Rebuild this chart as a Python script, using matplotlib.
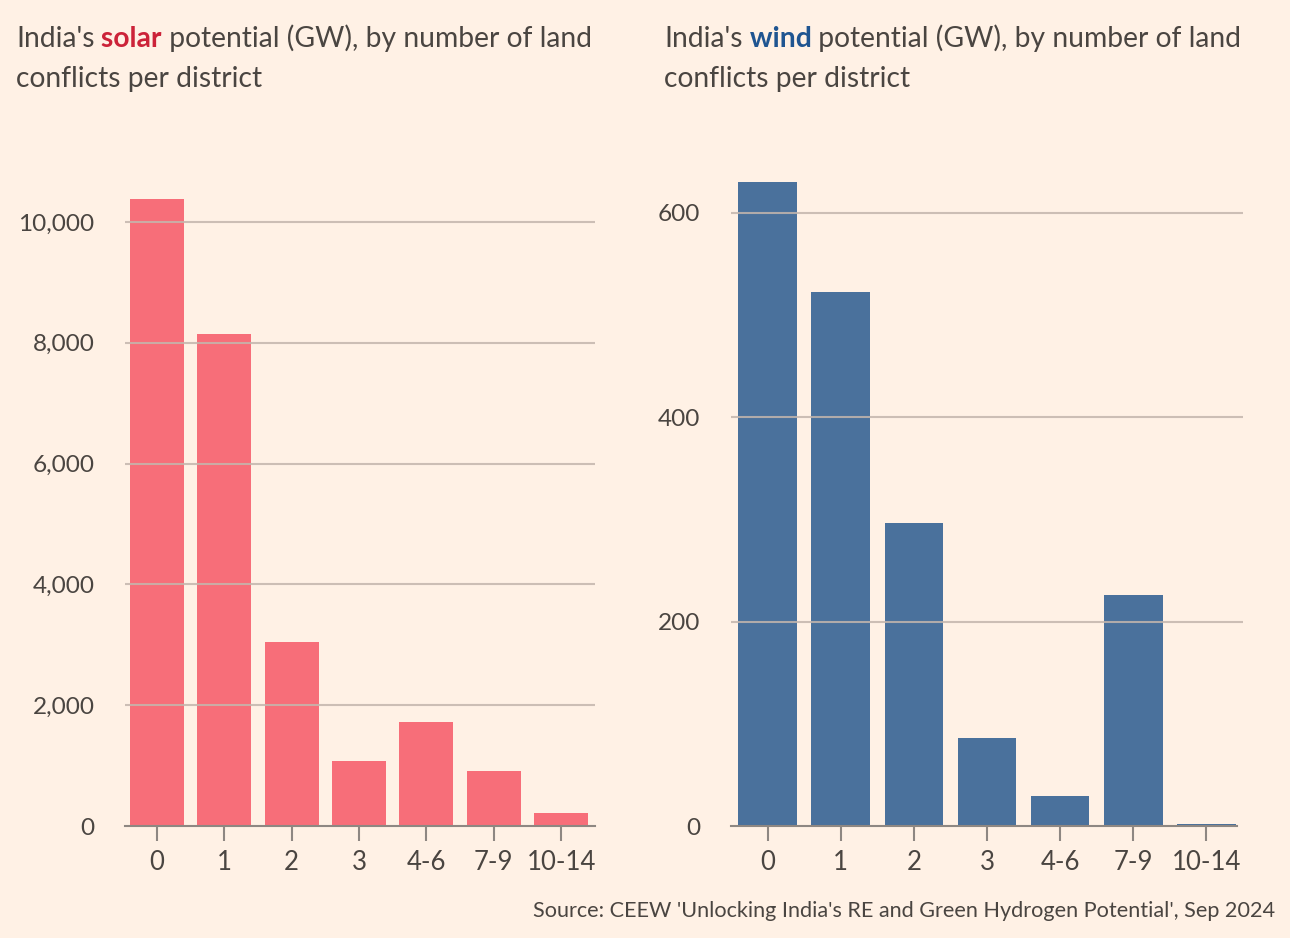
import matplotlib
matplotlib.use("Agg")
import matplotlib.pyplot as plt
import numpy as np

plt.rcParams['font.family'] = ['Lato', 'DejaVu Sans']

# data
categories = ["0", "1", "2", "3", "4-6", "7-9", "10-14"]
solar_gw = [10380, 8150, 3050, 1075, 1720, 910, 215]
wind_gw = [630, 523, 297, 86, 29, 226, 1.5]
solar_ticks = [0, 2000, 4000, 6000, 8000, 10000]
wind_ticks = [0, 200, 400, 600]

BG = "#FFF1E5"
TEXT = "#4a4541"
GRID = "#c4b6ad"
AXIS = "#8e8782"
SOLAR = "#F76E79"
SOLAR_WORD = "#cc2339"
WIND = "#4A719C"
WIND_WORD = "#1f5591"

W, H = 1290, 938
fig = plt.figure(figsize=(W / 100, H / 100), dpi=100, facecolor=BG)


def px_axes(x0, x1, y0, y1):
    # pixel box (top-left origin) -> figure axes
    return fig.add_axes([x0 / W, 1 - y1 / H, (x1 - x0) / W, (y1 - y0) / H])


def draw_panel(ax, values, ticks, ytop, color, xlim):
    x = np.arange(len(categories))
    ax.set_facecolor(BG)
    ax.bar(x, values, width=0.8, color=color, zorder=1)
    for t in ticks[1:]:
        ax.axhline(t, color=GRID, lw=1.5, alpha=0.85, zorder=2)
    ax.set_ylim(0, ytop)
    ax.set_xlim(*xlim)
    for s in ["top", "right", "left"]:
        ax.spines[s].set_visible(False)
    ax.spines["bottom"].set_color(AXIS)
    ax.spines["bottom"].set_linewidth(1.5)
    ax.spines["bottom"].set_zorder(3)
    ax.set_xticks(x)
    ax.set_xticklabels(categories)
    ax.set_yticks(ticks)
    ax.set_yticklabels([f"{t:,}" for t in ticks])
    ax.tick_params(axis="x", length=11, width=1.5, color=AXIS, pad=6,
                   labelsize=18.5, labelcolor=TEXT)
    ax.tick_params(axis="y", length=0, pad=22, labelsize=17.6, labelcolor=TEXT)


ax1 = px_axes(125, 595, 170, 826)
draw_panel(ax1, solar_gw, solar_ticks, (826 - 170) / 60.4 * 1000, SOLAR, (-0.47, 6.5))
ax1.spines["bottom"].set_bounds(-0.47, 6.5)

ax2 = px_axes(731, 1243, 170, 826)
draw_panel(ax2, wind_gw, wind_ticks, (826 - 170) / 1.0217, WIND, (-0.5, 6.5))
ax2.spines["bottom"].set_bounds(-0.5, 6.42)


def title(x, y, word, word_color):
    t1 = fig.text(x / W, 1 - y / H, "India's", fontsize=20.3, color=TEXT,
                  ha="left", va="baseline")
    t2 = fig.text(0, 0, " " + word, fontsize=20.3, color=word_color,
                  fontweight="bold", ha="left", va="baseline")
    t3 = fig.text(0, 0, " potential (GW), by number of land", fontsize=20.3,
                  color=TEXT, ha="left", va="baseline")
    fig.canvas.draw()
    r = fig.canvas.get_renderer()
    b1 = t1.get_window_extent(r)
    t2.set_position((b1.x1 / W, 1 - y / H))
    b2 = t2.get_window_extent(r)
    t3.set_position((b2.x1 / W, 1 - y / H))
    fig.text(x / W, 1 - (y + 40) / H, "conflicts per district", fontsize=20.3,
             color=TEXT, ha="left", va="baseline")


title(16, 47, "solar", SOLAR_WORD)
title(664, 47, "wind", WIND_WORD)

fig.text(1275 / W, 1 - 917 / H,
         "Source: CEEW 'Unlocking India's RE and Green Hydrogen Potential', Sep 2024",
         fontsize=15.6, color=TEXT, ha="right", va="baseline")

fig.savefig("out.png", dpi=100, facecolor=BG)
